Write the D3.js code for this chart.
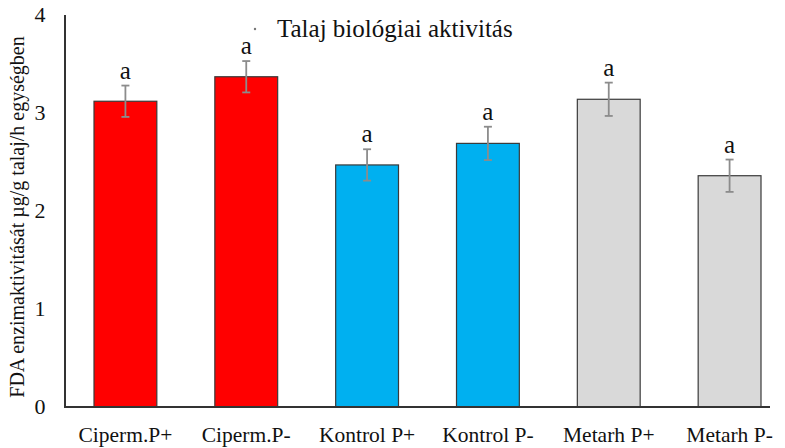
<!DOCTYPE html>
<html>
<head>
<meta charset="utf-8">
<script src="https://cdn.jsdelivr.net/npm/d3@7"></script>
<style>
  body { margin: 0; background: #fff; }
  text { font-family: "Liberation Serif", "DejaVu Serif", serif; fill: #111; }
</style>
</head>
<body>
<div id="chart"></div>
<script>
// data
var categories = ['Ciperm.P+', 'Ciperm.P-', 'Kontrol P+', 'Kontrol P-', 'Metarh P+', 'Metarh P-'];
var values = [3.12, 3.37, 2.47, 2.69, 3.14, 2.36];
var errors = [0.16, 0.16, 0.16, 0.17, 0.17, 0.165];
var letters = ['a', 'a', 'a', 'a', 'a', 'a'];
var colors = ['#ff0000', '#ff0000', '#00b0f0', '#00b0f0', '#d9d9d9', '#d9d9d9'];
var yTicks = [0, 1, 2, 3, 4];

var width = 785, height = 448;

var svg = d3.select('#chart')
  .append('svg')
  .attr('width', width)
  .attr('height', height);

var x = d3.scaleBand()
  .domain(categories)
  .range([65, 790])
  .paddingInner(0.48)
  .paddingOuter(0.24);

var y = d3.scaleLinear()
  .domain([0, 4])
  .range([407, 15]);

// bars
svg.selectAll('.bar')
  .data(categories)
  .enter()
  .append('rect')
  .attr('class', 'bar')
  .attr('x', function (d) { return x(d); })
  .attr('y', function (d, i) { return y(values[i]); })
  .attr('width', x.bandwidth())
  .attr('height', function (d, i) { return y(0) - y(values[i]); })
  .attr('fill', function (d, i) { return colors[i]; })
  .attr('stroke', '#3a3a3a')
  .attr('stroke-width', 1.2);

// error bars
var eb = svg.selectAll('.err')
  .data(categories)
  .enter()
  .append('g')
  .attr('class', 'err')
  .attr('stroke', '#8c8c8c')
  .attr('stroke-width', 1.8);

eb.append('line')
  .attr('x1', function (d) { return x(d) + x.bandwidth() / 2; })
  .attr('x2', function (d) { return x(d) + x.bandwidth() / 2; })
  .attr('y1', function (d, i) { return y(values[i] + errors[i]); })
  .attr('y2', function (d, i) { return y(values[i] - errors[i]); });

eb.append('line')
  .attr('x1', function (d) { return x(d) + x.bandwidth() / 2 - 4; })
  .attr('x2', function (d) { return x(d) + x.bandwidth() / 2 + 4; })
  .attr('y1', function (d, i) { return y(values[i] + errors[i]); })
  .attr('y2', function (d, i) { return y(values[i] + errors[i]); });

eb.append('line')
  .attr('x1', function (d) { return x(d) + x.bandwidth() / 2 - 4; })
  .attr('x2', function (d) { return x(d) + x.bandwidth() / 2 + 4; })
  .attr('y1', function (d, i) { return y(values[i] - errors[i]); })
  .attr('y2', function (d, i) { return y(values[i] - errors[i]); });

// significance letters
svg.selectAll('.letter')
  .data(categories)
  .enter()
  .append('text')
  .attr('class', 'letter')
  .attr('x', function (d) { return x(d) + x.bandwidth() / 2; })
  .attr('y', function (d, i) { return y(values[i] + errors[i]) - 7; })
  .attr('text-anchor', 'middle')
  .attr('font-size', '25px')
  .text(function (d, i) { return letters[i]; });

// axes lines
svg.append('line')
  .attr('x1', 65).attr('x2', 65)
  .attr('y1', y(4)).attr('y2', y(0))
  .attr('stroke', '#333').attr('stroke-width', 2);

svg.append('line')
  .attr('x1', 64).attr('x2', 770)
  .attr('y1', y(0)).attr('y2', y(0))
  .attr('stroke', '#333').attr('stroke-width', 2);

// y tick labels
svg.selectAll('.ytick')
  .data(yTicks)
  .enter()
  .append('text')
  .attr('class', 'ytick')
  .attr('x', 40)
  .attr('y', function (d) { return y(d); })
  .attr('dy', '0.3em')
  .attr('text-anchor', 'middle')
  .attr('font-size', '22px')
  .text(function (d) { return d; });

// x labels
svg.selectAll('.xlab')
  .data(categories)
  .enter()
  .append('text')
  .attr('class', 'xlab')
  .attr('x', function (d) { return x(d) + x.bandwidth() / 2; })
  .attr('y', 442)
  .attr('text-anchor', 'middle')
  .attr('font-size', '21.5px')
  .text(function (d) { return d; });

// y axis title
svg.append('text')
  .attr('transform', 'translate(24,' + 217 + ') rotate(-90)')
  .attr('text-anchor', 'middle')
  .attr('font-size', '20px')
  .text('FDA enzimaktivitását µg/g talaj/h egységben');

// legend / title
svg.append('circle')
  .attr('cx', 255).attr('cy', 29).attr('r', 1.2)
  .attr('fill', '#777');

svg.append('text')
  .attr('x', 277)
  .attr('y', 37)
  .attr('font-size', '25px')
  .text('Talaj biológiai aktivitás');
</script>
</body>
</html>
